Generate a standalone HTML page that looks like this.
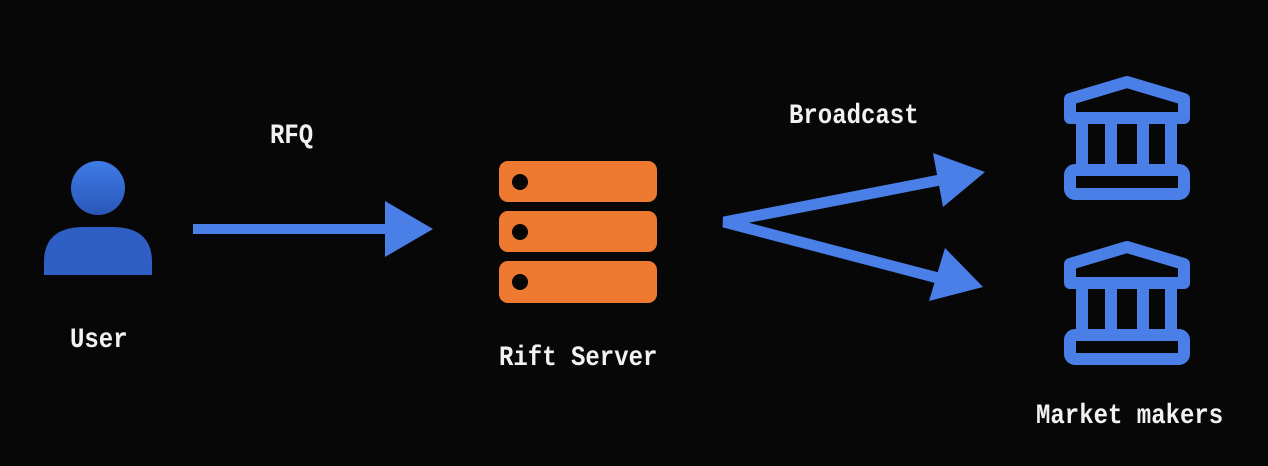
<!DOCTYPE html>
<html><head><meta charset="utf-8"><style>
html,body{margin:0;padding:0;background:#070707;}
svg{display:block}
text{font-family:"Liberation Mono",monospace;font-weight:bold;font-size:24px;fill:#f2f2f2;}
</style></head><body>
<svg width="1268" height="466" viewBox="0 0 1268 466" xmlns="http://www.w3.org/2000/svg">
<defs><linearGradient id="g" x1="0" y1="0" x2="0" y2="1"><stop offset="0" stop-color="#3f7ce6"/><stop offset="1" stop-color="#2a56b8"/></linearGradient></defs>
<rect width="1268" height="466" fill="#070707"/>
<!-- user -->
<circle cx="98" cy="188" r="27" fill="url(#g)"/>
<path d="M44 275 L44 262 Q44 227 84 227 L112 227 Q152 227 152 262 L152 275 Z" fill="#2f5fc4"/>
<text x="70" y="347" transform="translate(70 347) scale(1 1.15) translate(-70 -347)">User</text>
<!-- RFQ arrow -->
<rect x="193" y="224" width="195" height="10" fill="#4a7fe8"/>
<polygon points="385,201 433,229 385,257" fill="#4a7fe8"/>
<text x="270" y="143" transform="translate(270 143) scale(1 1.15) translate(-270 -143)">RFQ</text>
<!-- server -->
<g fill="#ee7a32">
<rect x="499" y="161" width="158" height="41" rx="9"/>
<rect x="499" y="211" width="158" height="41" rx="9"/>
<rect x="499" y="261" width="158" height="42" rx="9"/>
</g>
<g fill="#070707"><circle cx="520" cy="182" r="8"/><circle cx="520" cy="232" r="8"/><circle cx="520" cy="282" r="8"/></g>
<text x="499" y="365" transform="translate(499 365) scale(1 1.15) translate(-499 -365)">Rift Server</text>
<!-- broadcast arrows -->
<polyline points="940,180 724,222 938,278" fill="none" stroke="#4a7fe8" stroke-width="11" stroke-linejoin="miter"/>
<polygon points="933,153 985,172 943,207" fill="#4a7fe8"/>
<polygon points="945,248 983,287 929,301" fill="#4a7fe8"/>
<text x="789" y="123" transform="translate(789 123) scale(1 1.15) translate(-789 -123)">Broadcast</text>
<!-- banks -->
<g fill="none" stroke="#4a7fe8" stroke-width="12" stroke-linejoin="round">
<path d="M1070 118 L1070 99 L1127 82 L1184 99 L1184 118 Z"/>
<path d="M1082 120 V166 M1111 120 V166 M1143 120 V166 M1171 120 V166"/>
<rect x="1070" y="170" width="114" height="24" rx="5"/>
<path d="M1070 283 L1070 264 L1127 247 L1184 264 L1184 283 Z"/>
<path d="M1082 285 V331 M1111 285 V331 M1143 285 V331 M1171 285 V331"/>
<rect x="1070" y="335" width="114" height="24" rx="5"/>
</g>
<text x="1036" y="423" transform="translate(1036 423) scale(1 1.15) translate(-1036 -423)">Market makers</text>
</svg>
</body></html>
